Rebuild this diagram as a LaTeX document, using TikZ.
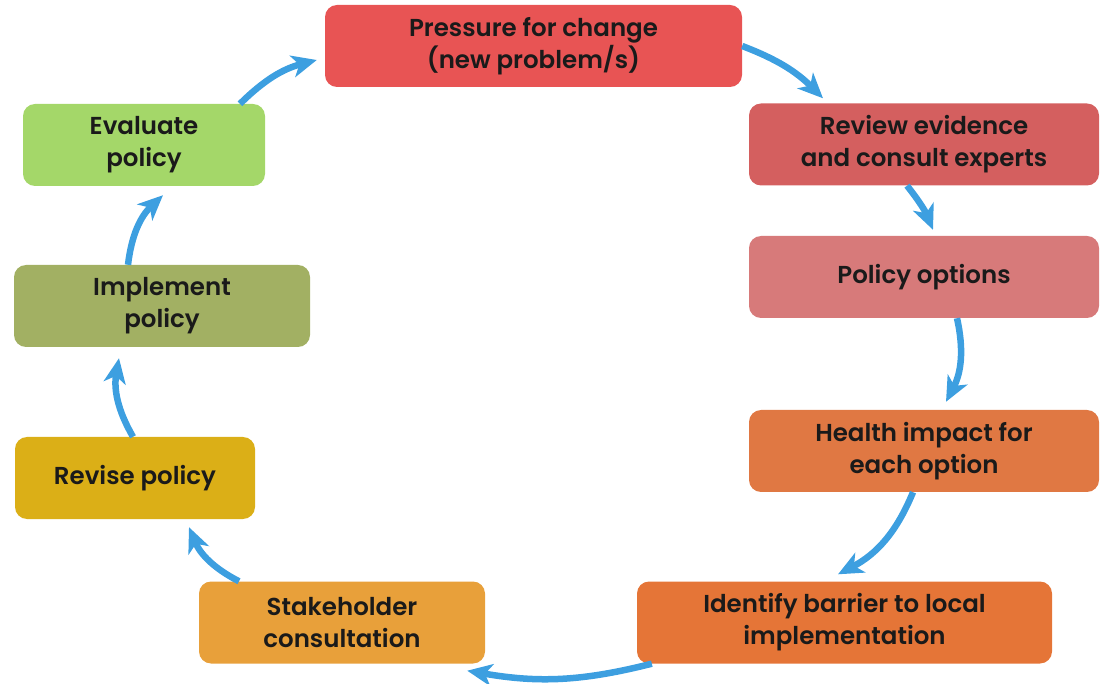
\documentclass[tikz,border=0pt]{standalone}
\usepackage{fontspec}
\setmainfont{Poppins}[BoldFont={Poppins SemiBold}]
\usepackage{tikz}
\usetikzlibrary{positioning,arrows.meta}

\definecolor{cpress}{HTML}{E85454}
\definecolor{creview}{HTML}{D45F5F}
\definecolor{coptions}{HTML}{D77A7A}
\definecolor{chealth}{HTML}{E07843}
\definecolor{cident}{HTML}{E57537}
\definecolor{cstake}{HTML}{E8A03A}
\definecolor{crevise}{HTML}{DBAF17}
\definecolor{cimplem}{HTML}{A2B063}
\definecolor{cevalu}{HTML}{A4D769}
\definecolor{cflow}{HTML}{3D9FE0}
\definecolor{ctext}{HTML}{1A1A1A}

\tikzset{
	stage/.style={rounded corners=12pt, minimum height=82pt, align=center,
		text=ctext, font=\fontsize{24.5}{32}\selectfont\bfseries, inner sep=0pt},
	flow/.style={draw=cflow, line width=6.5pt,
		-{Stealth[length=25pt,width=22pt,inset=7pt]}},
}

\begin{document}
\begin{tikzpicture}
	\useasboundingbox (0,0) rectangle (1101pt,-684pt);
	%% top row
	\node[stage, fill=cpress, minimum width=417pt] (press) at (533.5pt,-46pt)
		{Pressure for change\\(new problem/s)};
	%% right column
	\node[stage, fill=creview, minimum width=350pt, below right =98.5pt and 390.5pt of press.center, anchor=center] (review)
		{Review evidence\\and consult experts};
	\node[stage, fill=coptions, minimum width=350pt, below =132.5pt of review.center, anchor=center] (options)
		{Policy options};
	\node[stage, fill=chealth, minimum width=350pt, below =174pt of options.center, anchor=center] (health)
		{Health impact for\\each option};
	%% bottom row
	\node[stage, fill=cident, minimum width=415pt, below left =171.5pt and 79.5pt of health.center, anchor=center] (ident)
		{Identify barrier to local\\implementation};
	\node[stage, fill=cstake, minimum width=286pt, left =502.5pt of ident.center, anchor=center] (stake)
		{Stakeholder\\consultation};
	%% left column
	\node[stage, fill=crevise, minimum width=240pt, above left =144.5pt and 207pt of stake.center, anchor=center] (revise)
		{Revise policy};
	\node[stage, fill=cimplem, minimum width=296pt, above right =172pt and 27pt of revise.center, anchor=center] (implem)
		{Implement\\policy};
	\node[stage, fill=cevalu, minimum width=242pt, above left =161pt and 18pt of implem.center, anchor=center] (evalu)
		{Evaluate\\policy};
	% cycle arrows
	\draw[flow] (press.east) to[bend left=12] ([xshift=-101pt,yshift=5pt]review.north);
	\draw[flow] ([xshift=-17pt]review.south) to[bend left=8] ([xshift=9pt,yshift=6pt]options.north);
	\draw[flow] ([xshift=33pt]options.south) to[bend left=20] ([xshift=22pt,yshift=8pt]health.north);
	\draw[flow] ([xshift=-11pt]health.south) to[bend left=20] ([xshift=-6.5pt,yshift=7pt]ident.north);
	\draw[flow] ([xshift=15pt]ident.south west) to[bend left=12] ([xshift=-18pt,yshift=-7pt]stake.south east);
	\draw[flow] ([xshift=-103pt]stake.north) to[bend left=20] ([xshift=54pt,yshift=-8pt]revise.south);
	\draw[flow] ([xshift=-2pt]revise.north) to[bend left=20] ([xshift=-43pt,yshift=-11pt]implem.south);
	\draw[flow] ([xshift=-34pt]implem.north) to[bend left=20] ([xshift=19pt,yshift=-9pt]evalu.south);
	\draw[flow] ([xshift=96pt]evalu.north) to[bend left=15] ([xshift=-8pt,yshift=-14pt]press.west);
\end{tikzpicture}
\end{document}
